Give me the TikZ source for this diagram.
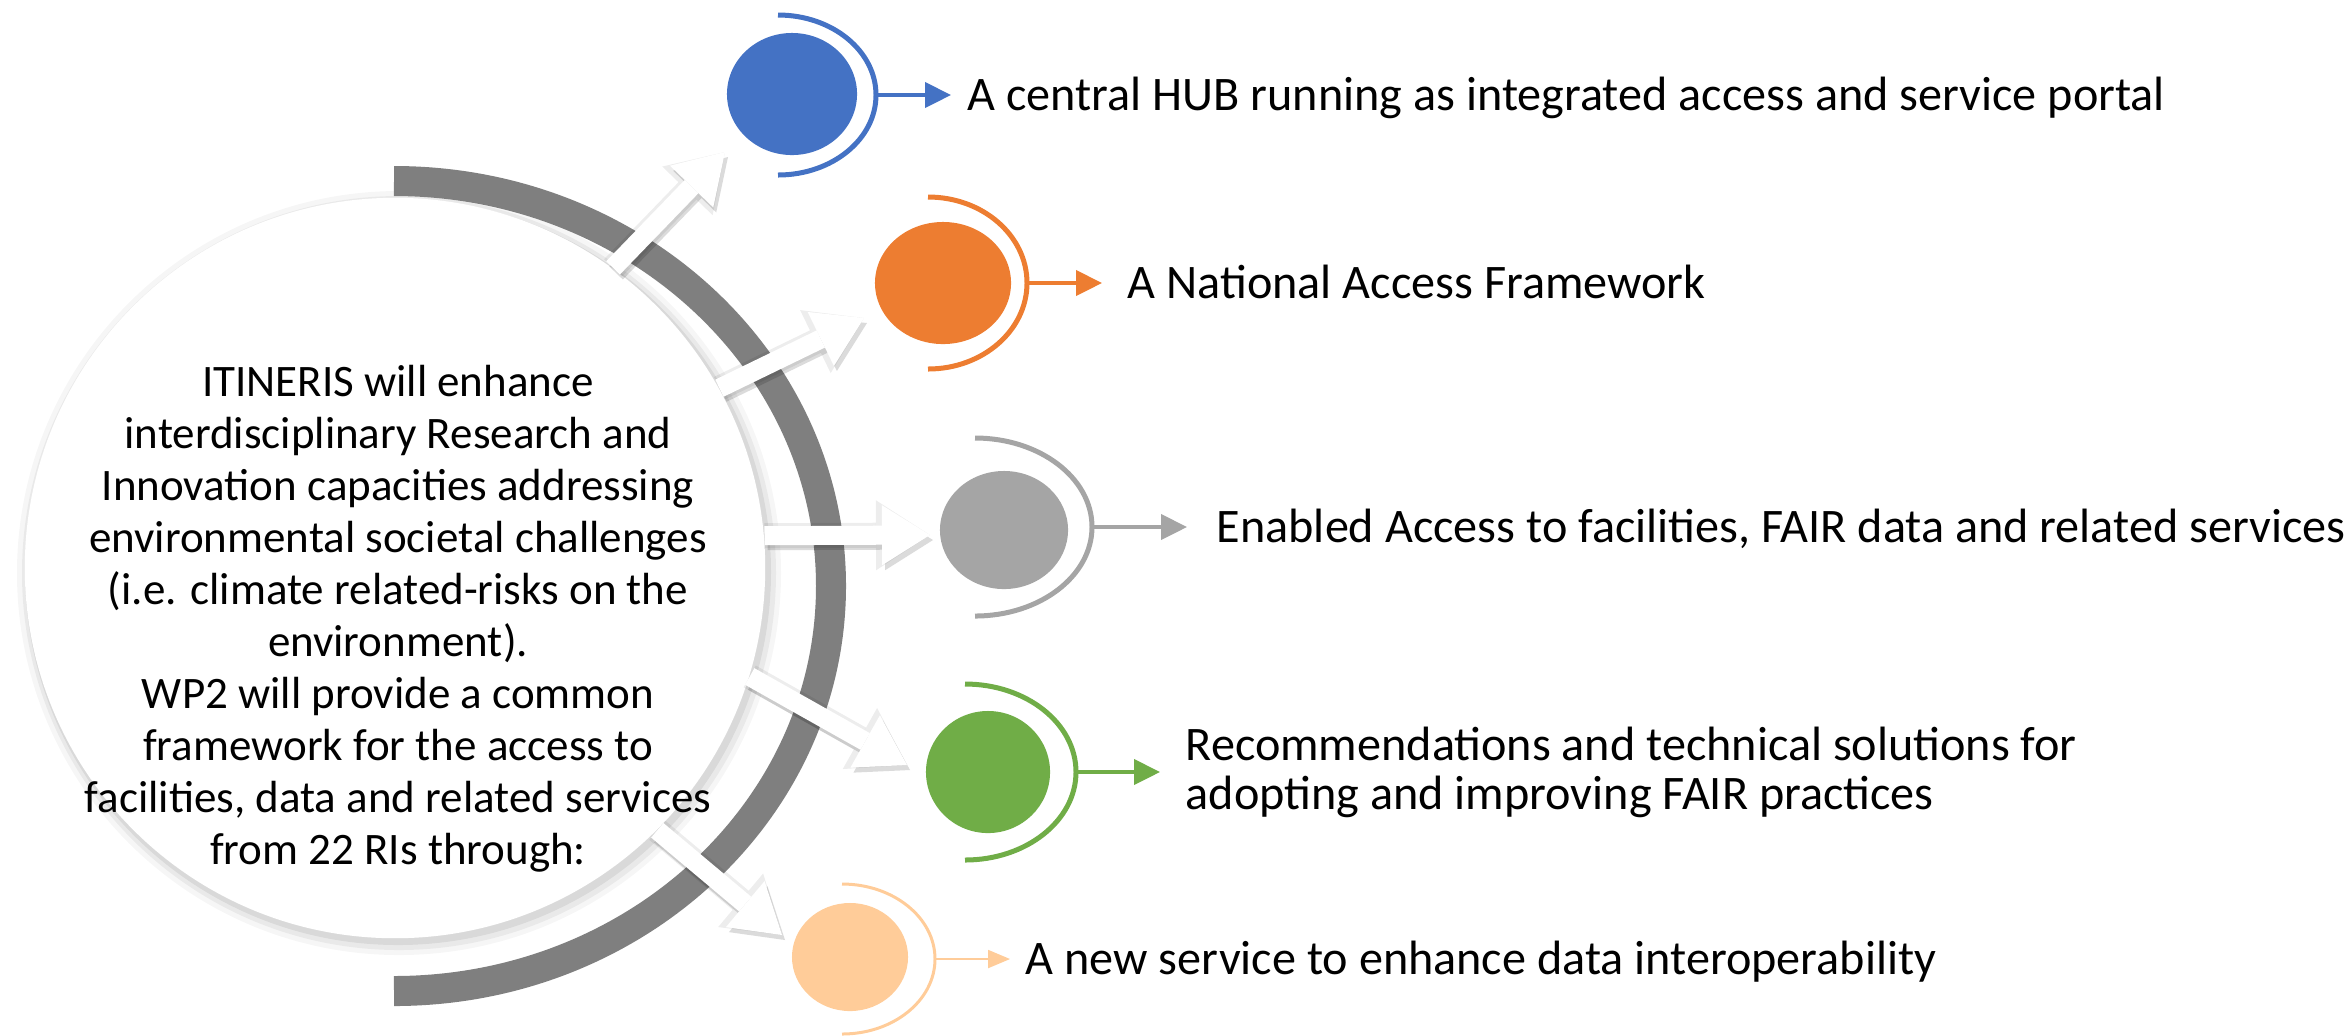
\documentclass[tikz,border=0pt]{standalone}
\usepackage{fontspec}
\setmainfont{Carlito}
\usetikzlibrary{positioning,shapes.geometric,arrows.meta}
\definecolor{hubblue}{HTML}{4472C4}
\definecolor{naforange}{HTML}{ED7D31}
\definecolor{fairgray}{HTML}{A5A5A5}
\definecolor{recgreen}{HTML}{70AD47}
\definecolor{peach}{HTML}{FFCC99}
\definecolor{bandgray}{HTML}{7F7F7F}
\begin{document}
\begin{tikzpicture}[x=0.01cm, y=0.01cm,
    blob/.style = {ellipse, fill=#1, inner sep=0pt},
    ring/.style = {draw=#1, line width=0.05cm},
    link/.style = {draw=#1, line width=0.04cm, -{Triangle[length=0.26cm, width=0.25cm]}},
    push/.style = {draw=white, line width=0.19cm, -{Triangle[length=0.48cm, width=0.6cm, line width=0pt]}},
    pushhalo/.style = {draw=black, opacity=0.07, line width=0.25cm, -{Triangle[length=0.54cm, width=0.7cm, line width=0pt]}},
    pushshadow/.style = {push, draw=black, opacity=0.14, transform canvas={xshift=0.03cm, yshift=-0.05cm}},
    goal/.style = {inner sep=0pt, font=\fontsize{13.7}{13.9}\selectfont, align=left}]
\useasboundingbox (0,0) rectangle (2349,-1035);

\fill[black, opacity=0.035] (399,-573) circle (382);
\fill[black, opacity=0.05] (399,-573) circle (377);
\fill[black, opacity=0.07] (398,-572) circle (373);
\node[circle, fill=white, minimum size=7.4cm, inner sep=0pt] (core) at (395,-568) {};
\draw[line width=0.3cm, draw=bandgray] (394,-181) arc[start angle=90, end angle=-90, x radius=437, y radius=405];

\node[blob=hubblue, minimum width=1.3cm, minimum height=1.22cm] (hub) at (792,-94) {};
\node[blob=naforange, minimum width=1.36cm, minimum height=1.22cm] (naf) at (943,-283) {};
\node[blob=fairgray, minimum width=1.28cm, minimum height=1.18cm] (fair) at (1004,-530) {};
\node[blob=recgreen, minimum width=1.24cm, minimum height=1.22cm] (recs) at (988,-772) {};
\node[blob=peach, minimum width=1.16cm, minimum height=1.08cm] (interop) at (850,-957) {};

\coordinate (h1) at (725,-152);
\coordinate (h2) at (864,-318);
\coordinate (h3) at (930,-535);
\coordinate (h4) at (907,-765);
\coordinate (h5) at (782,-935);
\draw[pushhalo] (core.54) -- (h1);
\draw[pushhalo] (core.29) -- (h2);
\draw[pushhalo] (core.5) -- (h3);
\draw[pushhalo] (core.-17) -- (h4);
\draw[pushhalo] (core.-45) -- (h5);
\draw[pushshadow] (core.54) -- (h1);
\draw[pushshadow] (core.29) -- (h2);
\draw[pushshadow] (core.5) -- (h3);
\draw[pushshadow] (core.-17) -- (h4);
\draw[pushshadow] (core.-45) -- (h5);
\draw[push] (core.54) -- (h1);
\draw[push] (core.29) -- (h2);
\draw[push] (core.5) -- (h3);
\draw[push] (core.-17) -- (h4);
\draw[push] (core.-45) -- (h5);

\draw[ring=hubblue] (hub.center) ++(-14,79) arc[start angle=90, end angle=0, x radius=98, y radius=80] coordinate (r1)
    arc[start angle=0, end angle=-90, x radius=98, y radius=80];
\draw[ring=naforange] (naf.center) ++(-15,86) arc[start angle=90, end angle=0, x radius=99, y radius=86] coordinate (r2)
    arc[start angle=0, end angle=-90, x radius=99, y radius=86];
\draw[ring=fairgray] (fair.center) ++(-29,92) arc[start angle=90, end angle=0, x radius=117, y radius=89] coordinate (r3)
    arc[start angle=0, end angle=-90, x radius=117, y radius=89];
\draw[ring=recgreen] (recs.center) ++(-23,88) arc[start angle=90, end angle=0, x radius=111, y radius=88] coordinate (r4)
    arc[start angle=0, end angle=-90, x radius=111, y radius=88];
\draw[ring=peach, line width=0.03cm] (interop.center) ++(-8,73) arc[start angle=90, end angle=0, x radius=93, y radius=75] coordinate (r5)
    arc[start angle=0, end angle=-90, x radius=93, y radius=75];

\node[goal, text height=0.31cm, text depth=0pt, right=0.91cm of r1] (t1) {A central HUB running as integrated access and service portal};
\node[goal, text height=0.31cm, text depth=0pt, right=1.0cm of r2] (t2) {A National Access Framework};
\node[goal, text height=0.31cm, text depth=0pt, right=1.24cm of r3] (t3) {Enabled Access to facilities, FAIR data and related services};
\node[goal, right=1.09cm of r4] (t4) {Recommendations and technical solutions for\\adopting and improving FAIR practices};
\node[goal, text height=0.31cm, text depth=0pt, right=0.9cm of r5] (t5) {A new service to enhance data interoperability};

\draw[link=hubblue, shorten >=0.16cm] (r1) -- (t1);
\draw[link=naforange, shorten >=0.25cm] (r2) -- (t2);
\draw[link=fairgray, shorten >=0.29cm] (r3) -- (t3);
\draw[link=recgreen, shorten >=0.25cm] (r4) -- (t4);
\draw[link=peach, line width=0.02cm, -{Triangle[length=0.22cm, width=0.18cm]}, shorten >=0.15cm] (r5) -- (t5);

\node[align=center, font=\fontsize{12.8}{14.8}\selectfont] (aims) at (398,-619)
    {ITINERIS will enhance\\interdisciplinary Research and\\Innovation capacities addressing\\environmental societal challenges\\(i.e. climate related-risks on the\\environment).\\WP2 will provide a common\\framework for the access to\\facilities, data and related services\\from 22 RIs through:};
\end{tikzpicture}
\end{document}
